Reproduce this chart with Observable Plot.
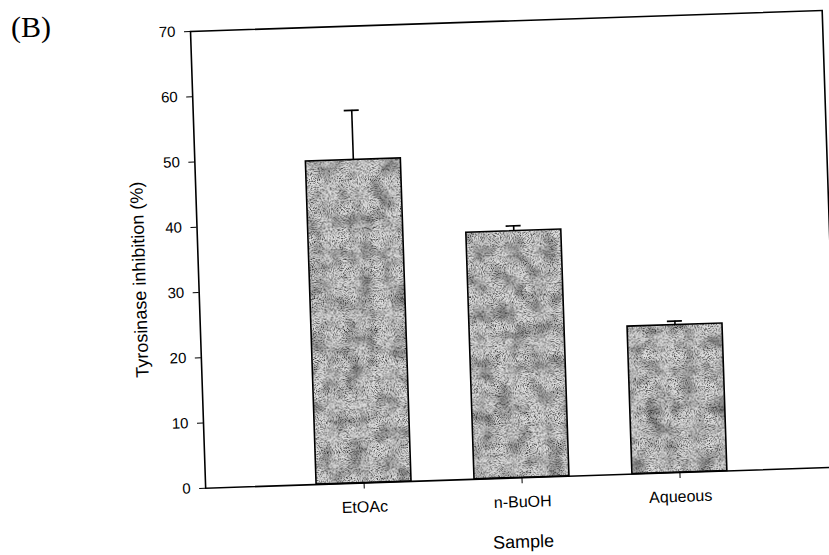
<!DOCTYPE html>
<html>
<head>
<meta charset="utf-8">
<script src="https://cdn.jsdelivr.net/npm/d3@7"></script>
<script src="https://cdn.jsdelivr.net/npm/@observablehq/plot@0.6"></script>
<style>
  html, body { margin: 0; padding: 0; background: #fff; }
  #wrap { position: relative; width: 829px; height: 555px; overflow: hidden; background: #fff; }
  #panel { position: absolute; left: 11px; top: 10px; font-family: "Liberation Serif", "Times New Roman", serif; font-size: 30px; color: #000; }
  #chart { position: absolute; left: 0; top: 0; }
  #chart svg { transform-origin: 190px 31px; transform: rotate(-1.9deg); overflow: visible; }
</style>
</head>
<body>
<div id="wrap">
  <div id="panel">(B)</div>
  <div id="chart"></div>
</div>
<script>
const samples = ["EtOAc", "n-BuOH", "Aqueous"];
const inhibition = [49.5, 37.8, 22.6];
const errors = [7.6, 0.8, 0.6];
const yTicks = [0, 10, 20, 30, 40, 50, 60, 70];

const data = samples.map((s, i) => ({sample: s, value: inhibition[i], err: errors[i], top: inhibition[i] + errors[i]}));

const chart = Plot.plot({
  width: 829,
  height: 555,
  marginLeft: 190,
  marginTop: 31,
  marginRight: 7,
  marginBottom: 67,
  style: {fontFamily: "'Liberation Sans', Arial, sans-serif", background: "transparent", color: "#000"},
  x: {type: "band", domain: samples, paddingInner: 0.4, paddingOuter: 0.7},
  y: {domain: [0, 70]},
  marks: [
    Plot.barY(data, {x: "sample", y: "value", fill: "url(#grain)", stroke: "#000", strokeWidth: 1.6}),
    Plot.ruleX(data, {x: "sample", y1: "value", y2: "top", stroke: "#000", strokeWidth: 1.6}),
    Plot.tickY(data, {x: "sample", y: "top", stroke: "#000", strokeWidth: 1.6, insetLeft: 40, insetRight: 40}),
    Plot.frame({stroke: "#000", strokeWidth: 1.6}),
    Plot.axisY({ticks: yTicks, tickSize: 6, tickPadding: 9, fontSize: 15, label: "Tyrosinase inhibition (%)", labelAnchor: "center", labelArrow: "none", labelOffset: 66}),
    Plot.axisX({tickSize: 6, tickPadding: 12, fontSize: 16, label: "Sample", labelAnchor: "center", labelArrow: "none", labelOffset: 70})
  ]
});

// grainy, scanned-looking texture for the bars
const ns = "http://www.w3.org/2000/svg";
const defs = document.createElementNS(ns, "defs");
defs.innerHTML = `
  <filter id="grainF" x="0" y="0" width="1" height="1" filterUnits="objectBoundingBox">
    <feTurbulence type="fractalNoise" baseFrequency="0.9" numOctaves="3" seed="7"/>
    <feColorMatrix type="matrix" values="0 0 0 0 0  0 0 0 0 0  0 0 0 0 0  2.2 0 0 0 -0.98"/>
  </filter>
  <filter id="blotchF" x="0" y="0" width="1" height="1" filterUnits="objectBoundingBox">
    <feTurbulence type="fractalNoise" baseFrequency="0.06" numOctaves="2" seed="3"/>
    <feColorMatrix type="matrix" values="0 0 0 0 0  0 0 0 0 0  0 0 0 0 0  0.9 0 0 0 -0.38"/>
  </filter>
  <pattern id="grain" patternUnits="userSpaceOnUse" x="0" y="0" width="829" height="555">
    <rect width="829" height="555" fill="#dedede"/>
    <rect width="829" height="555" fill="#000" filter="url(#blotchF)"/>
    <rect width="829" height="555" fill="#000" filter="url(#grainF)"/>
  </pattern>`;
chart.insertBefore(defs, chart.firstChild);
chart.querySelectorAll("text").forEach(t => {
  const s = t.textContent;
  if (s === "Sample") t.setAttribute("font-size", 18);
  if (s.startsWith("Tyrosinase")) {
    t.setAttribute("font-size", 18);
    const tr = t.getAttribute("transform") || "";
    const m = tr.match(/translate\(([-\d.]+),\s*([-\d.]+)\)/);
    if (m) t.setAttribute("transform", tr.replace(m[0], `translate(${m[1]},${+m[2] + 18})`));
  }
});
document.getElementById("chart").appendChild(chart);
</script>
</body>
</html>
